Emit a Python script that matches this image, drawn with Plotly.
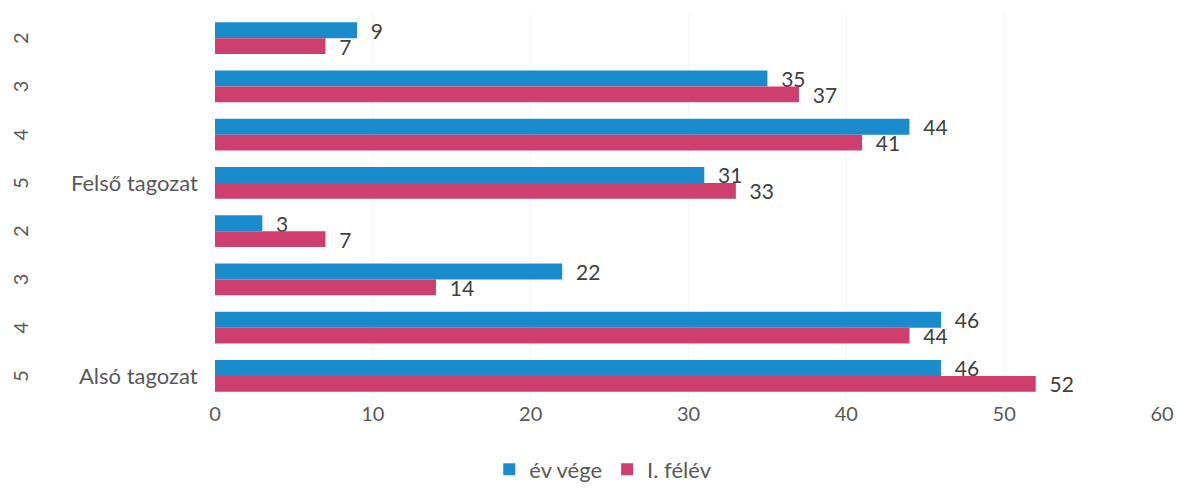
import plotly.graph_objects as go

groups = ["Felső tagozat"] * 4 + ["Alsó tagozat"] * 4
grades = ["2", "3", "4", "5", "2", "3", "4", "5"]
ev_vege = [9, 35, 44, 31, 3, 22, 46, 46]
i_felev = [7, 37, 41, 33, 7, 14, 44, 52]
x_ticks = [0, 10, 20, 30, 40, 50, 60]

cats = [f"{g}|{n}" for g, n in zip(groups, grades)]

BLUE = "#1a8bcb"
PINK = "#cf3f6e"
TXT = "#404040"
GRAY = "#595959"
FONT = "Lato"

fig = go.Figure()
for name, vals, col in [("év vége", ev_vege, BLUE), ("I. félév", i_felev, PINK)]:
    fig.add_trace(go.Bar(
        y=cats, x=vals, orientation="h", name=name,
        marker=dict(color=col, line=dict(width=0)),
        text=vals, texttemplate="  %{x}", textposition="outside",
        constraintext="none",
        textfont=dict(size=21, color=TXT, family=FONT), cliponaxis=False,
    ))

annotations = []
for c, g, n in zip(cats, groups, grades):
    annotations.append(dict(
        x=-0.206, xref="paper", y=c, yref="y", text=n, showarrow=False,
        textangle=-90, xanchor="center", yanchor="middle",
        font=dict(size=20, color=GRAY, family=FONT)))
    if n == "5":
        annotations.append(dict(
            x=-0.016, xref="paper", y=c, yref="y", text=g, showarrow=False,
            xanchor="right", yanchor="middle",
            font=dict(size=22, color=GRAY, family=FONT)))

fig.update_layout(
    width=1177, height=492,
    margin=dict(l=215, r=15, t=14, b=92, autoexpand=False),
    paper_bgcolor="white", plot_bgcolor="white",
    barmode="group", bargap=0.34, bargroupgap=0.0,
    font=dict(family=FONT, color=GRAY, size=20),
    xaxis=dict(range=[0, 60], tickvals=x_ticks, showgrid=True,
               gridcolor="#f4f4f4", zeroline=False, showline=False,
               ticks="", automargin=False,
               tickfont=dict(size=20, color=GRAY)),
    yaxis=dict(autorange="reversed", showticklabels=False, showgrid=False,
               zeroline=False, showline=False, ticks="", automargin=False),
    legend=dict(orientation="h", x=0.41, xanchor="center", y=-0.18,
                yanchor="middle", font=dict(size=22, color=GRAY),
                itemwidth=30, traceorder="normal"),
    annotations=annotations,
    showlegend=True,
)

fig.write_html(
    "out.html",
    config={"displayModeBar": False},
    post_script="document.body.style.margin='0';document.body.style.overflow='hidden';",
)
